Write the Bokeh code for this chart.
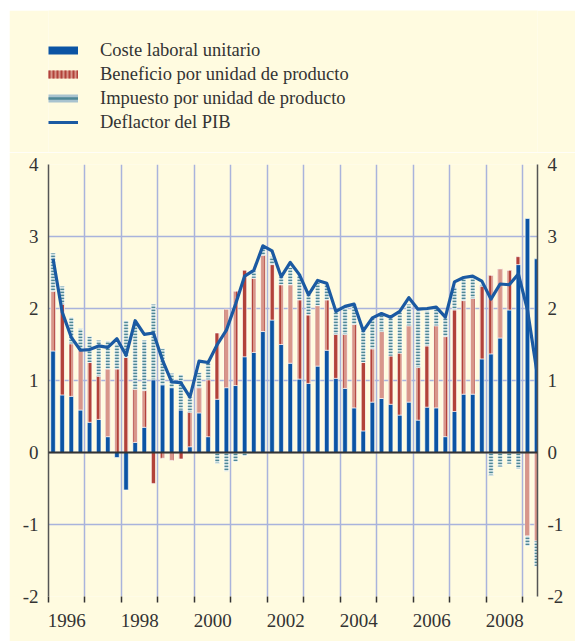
import numpy as np
from bokeh.plotting import figure
from bokeh.layouts import column
from bokeh.models import (ColumnDataSource, FixedTicker, LinearAxis, Range1d,
                          Legend, LegendItem, Span)
from bokeh.embed import file_html
from bokeh.resources import INLINE

# ---------------- data (quarterly, 1996 T1 - 2009 T2) ----------------
anio_inicio = 1996
coste_laboral = [1.41, 0.80, 0.78, 0.59, 0.42, 0.46, 0.22, -0.07, -0.52, 0.14,
                 0.35, 1.01, 0.94, 0.90, 0.59, 0.08, 0.55, 0.22, 0.74, 0.90,
                 0.93, 1.33, 1.39, 1.68, 1.84, 1.50, 1.24, 1.02, 0.96, 1.20,
                 1.42, 1.03, 0.89, 0.62, 0.30, 0.70, 0.75, 0.67, 0.52, 0.70,
                 0.45, 0.63, 0.62, 0.22, 0.57, 0.81, 0.81, 1.30, 1.37, 1.59,
                 1.98, 2.61, 3.25, 2.69]
beneficio = [0.83, 1.26, 0.73, 0.83, 0.83, 0.60, 0.94, 1.16, 1.32, 0.74,
             0.51, -0.43, -0.08, -0.11, -0.09, 0.48, 0.35, 0.79, 0.92, 1.09,
             1.31, 1.20, 1.03, 1.06, 0.77, 0.83, 1.09, 1.10, 0.95, 0.84,
             0.70, 0.61, 0.75, 1.16, 0.95, 0.74, 0.93, 0.67, 0.86, 1.06,
             0.73, 0.85, 1.14, 1.39, 1.41, 1.30, 1.33, 1.01, 1.09, 0.96,
             0.55, 0.11, -1.16, -1.23]
impuesto = [0.53, 0.25, 0.37, 0.30, 0.36, 0.50, 0.39, 0.35, 0.51, 0.94,
            0.70, 1.05, 0.50, 0.20, 0.49, 0.21, 0.21, 0.24, -0.15, -0.26,
            -0.13, -0.05, 0.10, 0.10, 0.11, 0.11, 0.24, 0.35, 0.28, 0.32,
            0.21, 0.33, 0.38, 0.28, 0.45, 0.43, 0.25, 0.54, 0.57, 0.30,
            0.79, 0.49, 0.24, 0.27, 0.32, 0.30, 0.30, 0.03, -0.32, -0.20,
            -0.16, -0.23, -0.14, -0.35]
deflactor = [2.69, 1.95, 1.60, 1.42, 1.43, 1.48, 1.46, 1.58, 1.35, 1.83,
             1.64, 1.66, 1.28, 0.98, 0.97, 0.77, 1.27, 1.25, 1.50, 1.70,
             2.06, 2.45, 2.53, 2.87, 2.80, 2.44, 2.64, 2.47, 2.19, 2.39,
             2.35, 1.96, 2.03, 2.06, 1.69, 1.87, 1.93, 1.88, 1.96, 2.15,
             1.99, 2.00, 2.02, 1.88, 2.37, 2.43, 2.45, 2.38, 2.13, 2.34,
             2.33, 2.48, 1.98, 1.15]
etiquetas_anio = ["1996", "1998", "2000", "2002", "2004", "2006", "2008"]
y_ticks = [-2, -1, 0, 1, 2, 3, 4]
leyenda = ["Coste laboral unitario", "Beneficio por unidad de producto",
           "Impuesto por unidad de producto", "Deflactor del PIB"]

# ---------------- styles ----------------
FONT = "Liberation Serif"
CREAM = "#fffbe0"
BLUE = "#0b54a4"
LINE_BLUE = "#1b5aa2"
RED_LIGHT = "#d8968a"
RED_DARK = "#b2423a"
TEAL_LIGHT = "#d3e2e2"
TEAL_DARK = "#4e8796"
GRID = "#a9b3dc"
TXT = "#333333"

n = len(coste_laboral)
idx = np.arange(n)
x = anio_inicio + 0.125 + 0.25 * idx

# stacking: positives upward, negatives downward
pos_base = np.zeros(n)
neg_base = np.zeros(n)
stacks = []
for serie in (coste_laboral, beneficio, impuesto):
    arr = np.array(serie, dtype=float)
    bottom = np.where(arr >= 0, pos_base, neg_base)
    top = bottom + arr
    pos_base = np.where(arr >= 0, top, pos_base)
    neg_base = np.where(arr < 0, top, neg_base)
    stacks.append((bottom, top))

# ---------------- legend panel (own small figure) ----------------
lg = figure(width=566, height=142, output_backend="svg", toolbar_location=None,
            x_range=Range1d(0, 1), y_range=Range1d(0, 1),
            x_axis_type=None, y_axis_type=None, min_border=0)
lg.background_fill_color = CREAM
lg.border_fill_color = CREAM
lg.outline_line_color = None
lg.xgrid.visible = False
lg.ygrid.visible = False

# proxy glyphs: placed outside the visible range, only shown in the legend
px, py = [-2, -1], [-2, -2]
r_c = lg.line(x=px, y=py, line_color=BLUE, line_width=8)
r_b1 = lg.line(x=px, y=py, line_color=RED_LIGHT, line_width=8)
r_b2 = lg.line(x=px, y=py, line_color=RED_DARK, line_width=8, line_dash="2 2")
r_i1 = lg.line(x=px, y=py, line_color="#a9c3cf", line_width=8)
r_i2 = lg.line(x=px, y=py, line_color=TEAL_DARK, line_width=2.5)
r_d = lg.line(x=px, y=py, line_color=LINE_BLUE, line_width=3)

legend = Legend(items=[LegendItem(label=leyenda[0], renderers=[r_c]),
                       LegendItem(label=leyenda[1], renderers=[r_b1, r_b2]),
                       LegendItem(label=leyenda[2], renderers=[r_i1, r_i2]),
                       LegendItem(label=leyenda[3], renderers=[r_d])],
                location=(0, 19.5), orientation="vertical",
                glyph_width=30, glyph_height=20, label_height=20, spacing=3,
                label_standoff=22, padding=0, margin=0,
                background_fill_alpha=0, border_line_color=None,
                label_text_font=FONT, label_text_font_size="18.5px",
                label_text_color=TXT)
lg.add_layout(legend, "center")

# ---------------- main chart ----------------
p = figure(width=566, height=489, output_backend="svg", toolbar_location=None,
           x_range=Range1d(1996, 2009.4), y_range=Range1d(-2, 4),
           min_border_left=39, min_border_right=38, min_border_top=12,
           min_border_bottom=45)
p.background_fill_color = CREAM
p.border_fill_color = CREAM
p.outline_line_color = None

p.xgrid.ticker = FixedTicker(ticks=list(range(1996, 2010)))
p.xgrid.grid_line_color = GRID
p.xgrid.grid_line_width = 1.5
p.ygrid.grid_line_color = GRID
p.ygrid.grid_line_width = 1.5

bw = 0.125
src = ColumnDataSource(dict(x=x,
                            b0=stacks[0][0], t0=stacks[0][1],
                            b1=stacks[1][0], t1=stacks[1][1],
                            b2=stacks[2][0], t2=stacks[2][1],
                            defl=deflactor))
p.vbar(x="x", bottom="b0", top="t0", width=bw, source=src,
       fill_color=BLUE, line_color="white", line_width=0.6)
p.vbar(x="x", bottom="b1", top="t1", width=bw, source=src,
       fill_color=RED_LIGHT, hatch_pattern="|", hatch_color=RED_DARK,
       hatch_scale=7, hatch_weight=3, line_color="white", line_width=0.6)
p.vbar(x="x", bottom="b2", top="t2", width=bw, source=src,
       fill_color=TEAL_LIGHT, hatch_pattern="-", hatch_color=TEAL_DARK,
       hatch_scale=3, hatch_weight=1.6, line_color="white", line_width=0.6)

p.add_layout(Span(location=0, dimension="width", line_color="#333333",
                  line_width=2))

p.line(x="x", y="defl", source=src, line_color=LINE_BLUE, line_width=3.2,
       line_join="round")

xa = p.xaxis[0]
xa.ticker = FixedTicker(ticks=[int(s) + 0.5 for s in etiquetas_anio],
                        minor_ticks=list(range(1996, 2010)))
xa.major_label_overrides = {int(s) + 0.5: s for s in etiquetas_anio}
xa.major_tick_out = 0
xa.major_tick_in = 0
xa.minor_tick_out = 6
xa.minor_tick_in = 0
xa.minor_tick_line_color = "#333333"
xa.minor_tick_line_width = 1.5
xa.axis_line_color = None
xa.major_label_standoff = 11
xa.major_label_text_font = FONT
xa.major_label_text_font_size = "19px"
xa.major_label_text_color = TXT

ya = p.yaxis[0]
ya.ticker = FixedTicker(ticks=y_ticks)
ya.major_label_overrides = {v: str(v) for v in y_ticks}
ry = LinearAxis(ticker=FixedTicker(ticks=y_ticks),
                major_label_overrides={v: str(v) for v in y_ticks})
p.add_layout(ry, "right")
for ax in (ya, ry):
    ax.major_tick_out = 0
    ax.major_tick_in = 0
    ax.minor_tick_out = 0
    ax.minor_tick_in = 0
    ax.axis_line_color = "#555555"
    ax.axis_line_width = 1.5
    ax.major_label_standoff = 10
    ax.major_label_text_font = FONT
    ax.major_label_text_font_size = "19px"
    ax.major_label_text_color = TXT

root = column(lg, p, spacing=0, margin=(10, 0, 0, 9))
open("out.html", "w").write(file_html(root, INLINE))
